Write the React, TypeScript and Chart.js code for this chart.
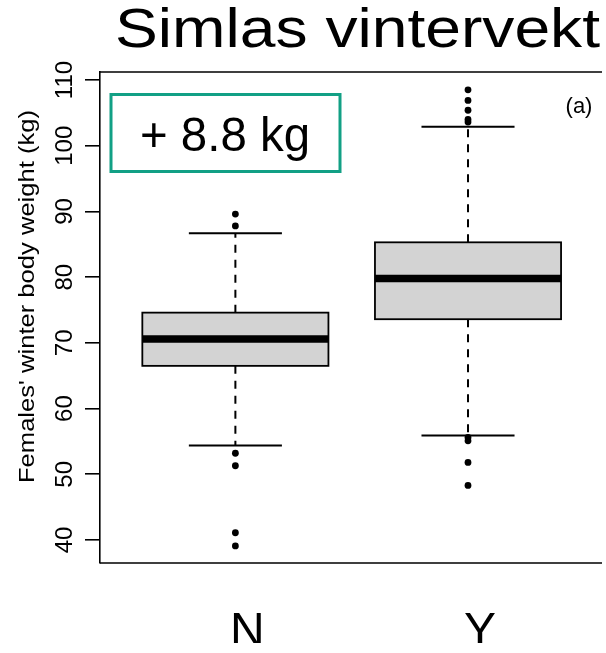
import React, { useEffect, useRef } from "react";
import { Chart, registerables } from "chart.js";

Chart.register(...registerables);

const categories = ["N", "Y"];
const lowerWhisker = [54.4, 55.9];
const q1 = [66.5, 73.6];
const median = [70.6, 79.8];
const q3 = [74.6, 85.3];
const upperWhisker = [86.7, 102.9];
const outliersN = [89.6, 87.8, 53.2, 51.3, 41.1, 39.1];
const outliersY = [108.5, 106.9, 105.4, 104.0, 103.6, 55.6, 55.1, 51.8, 48.3];
const yTicks = [40, 50, 60, 70, 80, 90, 100, 110];

const titleText = "Simlas vintervekt";
const yTitleText = "Females' winter body weight (kg)";
const annotationText = "+ 8.8 kg";
const panelText = "(a)";

const FONT = '"Liberation Sans", Arial, sans-serif';

function drawFitted(
  ctx: CanvasRenderingContext2D,
  text: string,
  cx: number,
  cy: number,
  size: number,
  targetW: number | null,
  rotate = false
) {
  ctx.save();
  ctx.font = `${size}px ${FONT}`;
  const w = ctx.measureText(text).width;
  ctx.translate(cx, cy);
  if (rotate) ctx.rotate(-Math.PI / 2);
  if (targetW) ctx.scale(targetW / w, 1);
  ctx.textAlign = "center";
  ctx.textBaseline = "alphabetic";
  ctx.fillStyle = "#000";
  ctx.fillText(text, 0, 0);
  ctx.restore();
}

const boxPlugin = {
  id: "boxPlugin",
  beforeDatasetsDraw(chart: any) {
    const { ctx, chartArea } = chart;
    const xs = chart.scales.x;
    const ys = chart.scales.y;
    // frame
    ctx.save();
    ctx.strokeStyle = "#000";
    ctx.lineWidth = 1.6;
    ctx.beginPath();
    ctx.moveTo(chartArea.left, chartArea.top);
    ctx.lineTo(chartArea.right, chartArea.top);
    ctx.moveTo(chartArea.left, chartArea.bottom);
    ctx.lineTo(chartArea.right, chartArea.bottom);
    ctx.stroke();
    ctx.restore();

    categories.forEach((_, i) => {
      const c = xs.getPixelForValue(i + 1);
      const hw = xs.getPixelForValue(i + 1 + 0.4) - c;
      const capHw = hw / 2;
      const yLo = ys.getPixelForValue(lowerWhisker[i]);
      const yQ1 = ys.getPixelForValue(q1[i]);
      const yMed = ys.getPixelForValue(median[i]);
      const yQ3 = ys.getPixelForValue(q3[i]);
      const yHi = ys.getPixelForValue(upperWhisker[i]);
      ctx.save();
      ctx.strokeStyle = "#000";
      // dashed whiskers
      ctx.lineWidth = 2;
      ctx.setLineDash([8, 7]);
      ctx.beginPath();
      ctx.moveTo(c, yQ3);
      ctx.lineTo(c, yHi);
      ctx.moveTo(c, yQ1);
      ctx.lineTo(c, yLo);
      ctx.stroke();
      ctx.setLineDash([]);
      // caps
      ctx.lineWidth = 2;
      ctx.beginPath();
      ctx.moveTo(c - capHw, yHi);
      ctx.lineTo(c + capHw, yHi);
      ctx.moveTo(c - capHw, yLo);
      ctx.lineTo(c + capHw, yLo);
      ctx.stroke();
      // box
      ctx.fillStyle = "#d3d3d3";
      ctx.fillRect(c - hw, yQ3, 2 * hw, yQ1 - yQ3);
      ctx.lineWidth = 1.8;
      ctx.strokeRect(c - hw, yQ3, 2 * hw, yQ1 - yQ3);
      // median
      ctx.lineWidth = 7.5;
      ctx.beginPath();
      ctx.moveTo(c - hw, yMed);
      ctx.lineTo(c + hw, yMed);
      ctx.stroke();
      ctx.restore();
    });
  },
  afterDraw(chart: any) {
    const { ctx } = chart;
    const ys = chart.scales.y;
    // y tick labels (vertical)
    ys.ticks.forEach((t: any) => {
      const y = ys.getPixelForValue(t.value);
      drawFitted(ctx, String(t.value), 72, y, 24, null, true);
    });
    // y title
    drawFitted(ctx, yTitleText, 34, 296.5, 22, 373, true);
    // chart title
    drawFitted(ctx, titleText, 357.5, 46.7, 55, 485);
    // panel label
    drawFitted(ctx, panelText, 579, 113, 22, null);
    // annotation box
    ctx.save();
    ctx.strokeStyle = "#12a085";
    ctx.lineWidth = 3;
    ctx.strokeRect(111, 94.5, 229, 77);
    ctx.restore();
    drawFitted(ctx, annotationText, 225, 150.5, 49, 170);
  },
};

export default function App() {
  const ref = useRef<HTMLCanvasElement | null>(null);
  useEffect(() => {
    if (!ref.current) return;
    const chart = new Chart(ref.current, {
      type: "scatter",
      data: {
        datasets: [
          {
            label: "N",
            data: outliersN.map((v) => ({ x: 1, y: v })),
            backgroundColor: "#000",
            borderWidth: 0,
            pointRadius: 3.4,
          },
          {
            label: "Y",
            data: outliersY.map((v) => ({ x: 2, y: v })),
            backgroundColor: "#000",
            borderWidth: 0,
            pointRadius: 3.4,
          },
        ],
      },
      options: {
        animation: false,
        responsive: false,
        devicePixelRatio: 1,
        layout: { padding: { left: 85, top: 72, right: 0, bottom: 10 } },
        plugins: {
          legend: { display: false },
          tooltip: { enabled: false },
          title: { display: false },
        },
        scales: {
          x: {
            type: "linear",
            min: 0.418,
            max: 2.576,
            grid: { display: false, drawTicks: false },
            border: { display: false },
            afterBuildTicks: (scale: any) => {
              scale.ticks = categories.map((_, i) => ({ value: i + 1 }));
            },
            afterFit: (scale: any) => {
              scale.height = 80;
            },
            ticks: {
              callback: (v: any) => categories[Number(v) - 1] ?? "",
              font: { size: 48, family: FONT, lineHeight: 0.5 },
              color: "#000",
              padding: 58,
              labelOffset: 12,
              maxRotation: 0,
              autoSkip: false,
            },
          },
          y: {
            type: "linear",
            min: 36.5,
            max: 111.22,
            afterBuildTicks: (scale: any) => {
              scale.ticks = yTicks.map((v) => ({ value: v }));
            },
            grid: {
              display: true,
              drawOnChartArea: false,
              drawTicks: true,
              tickLength: 15,
              color: "#000",
              lineWidth: 1.6,
            },
            border: { display: true, color: "#000", width: 1.6 },
            ticks: { display: false },
          },
        },
      },
      plugins: [boxPlugin],
    } as any);
    return () => chart.destroy();
  }, []);
  return (
    <div style={{ position: "absolute", left: 0, top: 0, width: 606, height: 653, background: "#fff" }}>
      <canvas ref={ref} width={606} height={653} style={{ display: "block" }} />
    </div>
  );
}
